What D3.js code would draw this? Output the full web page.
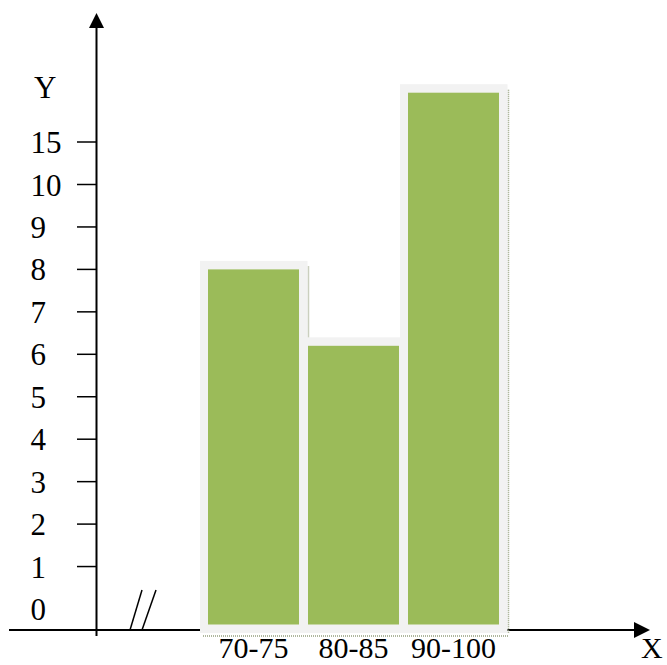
<!DOCTYPE html>
<html><head><meta charset="utf-8">
<script src="https://cdn.jsdelivr.net/npm/d3@7"></script>
<style>body{margin:0;background:#fff}svg{display:block}text{font-family:"Liberation Serif","Times New Roman",serif;fill:#000}</style>
</head><body><div id="chart"></div>
<script>
const categories = ["70-75", "80-85", "90-100"];
const values = [8, 6.2, 20.8];
const yTickLabels = [0, 1, 2, 3, 4, 5, 6, 7, 8, 9, 10, 15];

const W = 667, H = 665;
const svg = d3.select("#chart").append("svg").attr("width", W).attr("height", H);

// piecewise y scale (axis is broken: 0..10 by 1, then 15)
const y = d3.scaleLinear().domain([0, 10, 15]).range([609, 184.5, 142]);
const x = d3.scaleBand().domain(categories).range([203.5, 503.5]).paddingInner(0.09).paddingOuter(0.045);

const axisY = 630, axisX = 96.5;
const greenBottom = 624.5, grayBottom = 633;

// x axis line
svg.append("line").attr("x1", 9).attr("x2", 636).attr("y1", axisY).attr("y2", axisY)
  .attr("stroke", "#000").attr("stroke-width", 2);
svg.append("path").attr("d", `M650,${axisY} L634,${axisY-8} L634,${axisY+8} Z`).attr("fill", "#000");
// y axis line
svg.append("line").attr("x1", axisX).attr("x2", axisX).attr("y1", 26).attr("y2", 636)
  .attr("stroke", "#000").attr("stroke-width", 2);
svg.append("path").attr("d", `M${axisX},13 L${axisX-7.5},28 L${axisX+7.5},28 Z`).attr("fill", "#000");

// break marks
svg.append("line").attr("x1", 130).attr("y1", axisY).attr("x2", 142).attr("y2", 590).attr("stroke", "#000").attr("stroke-width", 1.5);
svg.append("line").attr("x1", 142).attr("y1", axisY).attr("x2", 156).attr("y2", 590).attr("stroke", "#000").attr("stroke-width", 1.5);

// y ticks & labels
const tg = svg.append("g");
yTickLabels.forEach(v => {
  if (v !== 0) {
    tg.append("line").attr("x1", 77).attr("x2", axisX).attr("y1", y(v)).attr("y2", y(v))
      .attr("stroke", "#000").attr("stroke-width", 1.5);
  }
  tg.append("text").attr("x", 30.5).attr("y", y(v) + 11).attr("font-size", 31).text(v);
});
svg.append("text").attr("x", 34).attr("y", 98).attr("font-size", 31).text("Y");
svg.append("text").attr("x", 641).attr("y", 658).attr("font-size", 30).text("X");

// bars
const bars = svg.append("g");
// bottom dotted shadow
bars.append("line").attr("x1", 203).attr("x2", 508).attr("y1", 636).attr("y2", 636)
  .attr("stroke", "#95a07f").attr("stroke-width", 1.5).attr("stroke-dasharray", "1,1");
categories.forEach((c, i) => {
  const x0 = x(c), w = x.bandwidth(), top = y(values[i]);
  bars.append("rect").attr("x", x0 - 8).attr("y", top - 8.5).attr("width", w + 16.5).attr("height", grayBottom - top + 8.5)
    .attr("fill", "#f2f2f2");
  bars.append("line").attr("x1", x0 + w + 9.5).attr("x2", x0 + w + 9.5).attr("y1", top - 3).attr("y2", grayBottom)
    .attr("stroke", "#95a07f").attr("stroke-width", 1.5).attr("stroke-dasharray", "1,1");
});
categories.forEach((c, i) => {
  const x0 = x(c), w = x.bandwidth(), top = y(values[i]);
  bars.append("rect").attr("x", x0).attr("y", top).attr("width", w).attr("height", greenBottom - top)
    .attr("fill", "#9bbb59");
});
// x labels
categories.forEach(c => {
  svg.append("text").attr("x", x(c) + x.bandwidth() / 2).attr("y", 658).attr("text-anchor", "middle")
    .attr("font-size", 30).text(c);
});
</script></body></html>
